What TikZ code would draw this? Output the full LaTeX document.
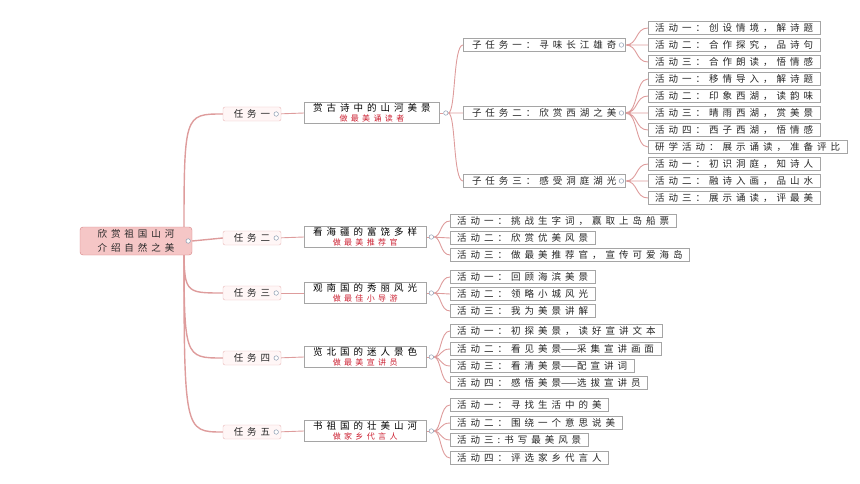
\documentclass[tikz,border=0pt]{standalone}
\usepackage{fontspec}
\newfontfamily\cjk[LetterSpace=42]{Noto Sans CJK SC}
\newfontfamily\cjkdash{Noto Sans CJK SC}
\usetikzlibrary{backgrounds}
\definecolor{rootfill}{RGB}{245,198,198}
\definecolor{rootedge}{RGB}{214,130,132}
\definecolor{taskfill}{RGB}{255,246,246}
\definecolor{taskedge}{RGB}{232,184,184}
\definecolor{boxedge}{RGB}{165,165,165}
\definecolor{linkpink}{RGB}{222,156,156}
\definecolor{subred}{RGB}{204,34,51}
\definecolor{knobedge}{RGB}{138,155,176}

\begin{document}
\begin{tikzpicture}[x=1pt,y=-1pt,
  every node/.style={font=\cjk\fontsize{9.5}{10}\selectfont, text=black!85, inner sep=0pt},
  rootbox/.style={draw=rootedge, fill=rootfill, rounded corners=3pt, minimum width=112pt, minimum height=28pt, align=center, font=\cjk\fontsize{9.5}{13.5}\selectfont},
  taskbox/.style={draw=taskedge, fill=taskfill, rounded corners=2pt, minimum width=58pt, minimum height=14pt},
  topicbox/.style={draw=boxedge, fill=white, anchor=west, minimum height=21pt, inner xsep=9pt, align=center, text=black},
  subbox/.style={draw=boxedge, fill=white, anchor=west, minimum width=162pt, minimum height=13pt},
  actbox/.style={draw=boxedge, fill=white, anchor=west, minimum height=13pt, inner xsep=7pt},
  knob/.style={circle, draw=knobedge, fill=white, line width=0.5pt, minimum size=4.5pt, inner sep=0pt},
  link/.style={draw=linkpink, line width=0.9pt},
  rootlink/.style={link, line width=1.4pt}
]
\useasboundingbox (0,0) rectangle (860,484);

\node[rootbox] (root) at (136,241) {欣赏祖国山河\\介绍自然之美};

\node[taskbox] (t1) at (252,114) {任务一};
\node[taskbox] (t2) at (252,238) {任务二};
\node[taskbox] (t3) at (252,293) {任务三};
\node[taskbox] (t4) at (252,358) {任务四};
\node[taskbox] (t5) at (252,432) {任务五};

\node[topicbox] (p1) at (304,113) {赏古诗中的山河美景\\{\color{subred}\fontsize{8}{9}\selectfont 做最美诵读者}};
\node[topicbox] (p2) at (304,237) {看海疆的富饶多样\\{\color{subred}\fontsize{8}{9}\selectfont 做最美推荐官}};
\node[topicbox] (p3) at (304,293) {观南国的秀丽风光\\{\color{subred}\fontsize{8}{9}\selectfont 做最佳小导游}};
\node[topicbox] (p4) at (304,357) {览北国的迷人景色\\{\color{subred}\fontsize{8}{9}\selectfont 做最美宣讲员}};
\node[topicbox] (p5) at (304,431) {书祖国的壮美山河\\{\color{subred}\fontsize{8}{9}\selectfont 做家乡代言人}};

\node[subbox] (s1) at (463,45) {子任务一：寻味长江雄奇};
\node[subbox] (s2) at (463,113) {子任务二：欣赏西湖之美};
\node[subbox] (s3) at (463,181) {子任务三：感受洞庭湖光};

\node[actbox] (a11) at (648,28) {活动一：创设情境，解诗题};
\node[actbox] (a12) at (648,45) {活动二：合作探究，品诗句};
\node[actbox] (a13) at (648,62) {活动三：合作朗读，悟情感};
\node[actbox] (a21) at (648,79) {活动一：移情导入，解诗题};
\node[actbox] (a22) at (648,96) {活动二：印象西湖，读韵味};
\node[actbox] (a23) at (648,113) {活动三：晴雨西湖，赏美景};
\node[actbox] (a24) at (648,130) {活动四：西子西湖，悟情感};
\node[actbox] (a25) at (648,147) {研学活动：展示诵读，准备评比};
\node[actbox] (a31) at (648,164) {活动一：初识洞庭，知诗人};
\node[actbox] (a32) at (648,181) {活动二：融诗入画，品山水};
\node[actbox] (a33) at (648,198) {活动三：展示诵读，评最美};

\node[actbox] (b1) at (450,221) {活动一：挑战生字词，赢取上岛船票};
\node[actbox] (b2) at (450,238) {活动二：欣赏优美风景};
\node[actbox] (b3) at (450,255) {活动三：做最美推荐官，宣传可爱海岛};

\node[actbox] (c1) at (450,277) {活动一：回顾海滨美景};
\node[actbox] (c2) at (450,294) {活动二：领略小城风光};
\node[actbox] (c3) at (450,311) {活动三：我为美景讲解};

\node[actbox] (d1) at (450,331) {活动一：初探美景，读好宣讲文本};
\node[actbox] (d2) at (450,349) {活动二：看见美景{\cjkdash ——}采集宣讲画面};
\node[actbox] (d3) at (450,366) {活动三：看清美景{\cjkdash ——}配宣讲词};
\node[actbox] (d4) at (450,383) {活动四：感悟美景{\cjkdash ——}选拔宣讲员};

\node[actbox] (e1) at (450,405) {活动一：寻找生活中的美};
\node[actbox] (e2) at (450,423) {活动二：围绕一个意思说美};
\node[actbox] (e3) at (450,440) {活动三:书写最美风景};
\node[actbox] (e4) at (450,458) {活动四：评选家乡代言人};

\node[knob] (kr) at ([xshift=-4pt]root.east) {};
\node[knob] (k1) at ([xshift=-5pt]t1.east) {};
\node[knob] (k2) at ([xshift=-5pt]t2.east) {};
\node[knob] (k3) at ([xshift=-5pt]t3.east) {};
\node[knob] (k4) at ([xshift=-5pt]t4.east) {};
\node[knob] (k5) at ([xshift=-5pt]t5.east) {};
\node[knob] (q1) at ([xshift=6pt]p1.east) {};
\node[knob] (q2) at ([xshift=5pt]p2.east) {};
\node[knob] (q3) at ([xshift=5pt]p3.east) {};
\node[knob] (q4) at ([xshift=5pt]p4.east) {};
\node[knob] (q5) at ([xshift=5pt]p5.east) {};
\node[knob] (r1) at ([xshift=-4pt]s1.east) {};
\node[knob] (r2) at ([xshift=-4pt]s2.east) {};
\node[knob] (r3) at ([xshift=-4pt]s3.east) {};

\coordinate (rj) at (184,241);

\begin{scope}[on background layer]
\draw[rootlink] (rj) .. controls (rj |- t1.west) .. (t1.west);
\draw[rootlink] (root.east) -- (t2.west);
\draw[rootlink] (rj) .. controls (rj |- t3.west) .. (t3.west);
\draw[rootlink] (rj) .. controls (rj |- t4.west) .. (t4.west);
\draw[rootlink] (rj) .. controls (rj |- t5.west) .. (t5.west);

\draw[link] (k1) -- (p1.west);
\draw[link] (k2) -- (p2.west);
\draw[link] (k3) -- (p3.west);
\draw[link] (k4) -- (p4.west);
\draw[link] (k5) -- (p5.west);

\draw[link] (p1.east) -- (q1) (p2.east) -- (q2) (p3.east) -- (q3) (p4.east) -- (q4) (p5.east) -- (q5);

\draw[link] (q1) .. controls +(10,0) and +(-10,0) .. (s1.west)
            (q1) -- (s2.west)
            (q1) .. controls +(10,0) and +(-10,0) .. (s3.west);

\draw[link] (s1.east) .. controls +(13,0) and +(-13,0) .. (a11.west)
            (s1.east) -- (a12.west)
            (s1.east) .. controls +(13,0) and +(-13,0) .. (a13.west);
\draw[link] (s2.east) .. controls +(13,0) and +(-13,0) .. (a21.west)
            (s2.east) .. controls +(13,0) and +(-13,0) .. (a22.west)
            (s2.east) -- (a23.west)
            (s2.east) .. controls +(13,0) and +(-13,0) .. (a24.west)
            (s2.east) .. controls +(13,0) and +(-13,0) .. (a25.west);
\draw[link] (s3.east) .. controls +(13,0) and +(-13,0) .. (a31.west)
            (s3.east) -- (a32.west)
            (s3.east) .. controls +(13,0) and +(-13,0) .. (a33.west);

\draw[link] (q2) .. controls +(10,0) and +(-10,0) .. (b1.west)
            (q2) -- (b2.west)
            (q2) .. controls +(10,0) and +(-10,0) .. (b3.west);
\draw[link] (q3) .. controls +(10,0) and +(-10,0) .. (c1.west)
            (q3) -- (c2.west)
            (q3) .. controls +(10,0) and +(-10,0) .. (c3.west);
\draw[link] (q4) .. controls +(10,0) and +(-10,0) .. (d1.west)
            (q4) .. controls +(10,0) and +(-10,0) .. (d2.west)
            (q4) .. controls +(10,0) and +(-10,0) .. (d3.west)
            (q4) .. controls +(10,0) and +(-10,0) .. (d4.west);
\draw[link] (q5) .. controls +(10,0) and +(-10,0) .. (e1.west)
            (q5) .. controls +(10,0) and +(-10,0) .. (e2.west)
            (q5) .. controls +(10,0) and +(-10,0) .. (e3.west)
            (q5) .. controls +(10,0) and +(-10,0) .. (e4.west);
\end{scope}
\end{tikzpicture}
\end{document}
